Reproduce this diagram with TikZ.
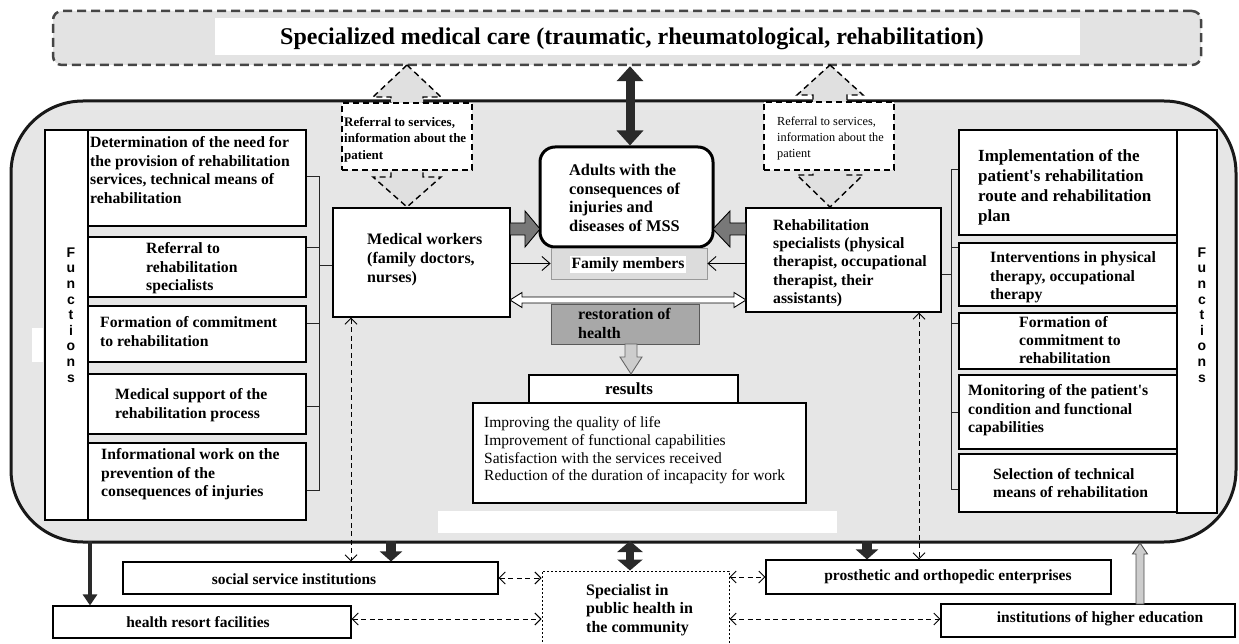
\documentclass[tikz,border=0pt]{standalone}
\usepackage{fontspec}
\setmainfont{Liberation Serif}
\newfontfamily\sansfont{Liberation Sans}
\usetikzlibrary{arrows.meta,calc,fit}
\definecolor{bgmain}{HTML}{E6E6E6}
\definecolor{bgtitle}{HTML}{E3E3E3}
\definecolor{refgrey}{HTML}{E0E0E0}
\definecolor{dashgrey}{HTML}{454545}
\definecolor{blockgrey}{HTML}{787878}
\definecolor{famgrey}{HTML}{DCDCDC}
\definecolor{restgrey}{HTML}{A8A8A8}
\definecolor{lightarrow}{HTML}{CDCDCD}
\definecolor{darkarrow}{HTML}{2A2A2A}
\newcommand{\fsz}[2]{\fontsize{#1}{#2}\selectfont}
\newcommand{\apos}{\XeTeXglyph\XeTeXcharglyph"27\relax}
\begin{document}
\begin{tikzpicture}[x=1pt,y=-1pt,
  box/.style={draw=black, line width=1.1pt, fill=white, rectangle, inner sep=0pt},
  btxt/.style={inner sep=0pt, anchor=north west, align=left, font=\bfseries\fsz{15.7}{18.6}},
  rtxt/.style={inner sep=0pt, anchor=north west, align=left, font=\fsz{15.5}{17.7}},
  reftxtb/.style={inner sep=0pt, anchor=north west, align=left, font=\bfseries\fsz{13}{16.5}},
  reftxtr/.style={inner sep=0pt, anchor=north west, align=left, font=\fsz{12.3}{15.6}},
  refbox/.style={draw=black, line width=1.4pt, dash pattern=on 6pt off 4pt, fill=white, inner sep=0pt},
  refarrow/.style={draw=black, line width=1.4pt, dash pattern=on 6pt off 4pt, fill=refgrey},
  bottxt/.style={inner sep=0pt, font=\bfseries\fsz{15.5}{18}},
  funcs/.style={align=center, inner sep=0pt, font=\sansfont\bfseries\fsz{14}{15.6}},
  brk/.style={draw=black!85, line width=0.9pt},
  garrow/.style={draw=black, line width=0.9pt, fill=blockgrey},
  lgarrow/.style={draw=black!60, line width=0.9pt, fill=lightarrow},
  hollow/.style={draw=black, line width=0.9pt, fill=white},
  thinarrow/.style={draw=black, line width=0.9pt, -{Straight Barb[length=8pt,width=14pt]}},
  dcon/.style={draw=black, line width=1pt, dash pattern=on 5pt off 3.5pt,
    {Straight Barb[length=6pt,width=12pt]}-{Straight Barb[length=6pt,width=12pt]}},
  blkdouble/.style={draw=darkarrow, line width=9pt,
    {Triangle[length=15pt,width=26pt]}-{Triangle[length=15pt,width=26pt]}},
  blkdoubleb/.style={draw=darkarrow, line width=8pt,
    {Triangle[length=11pt,width=25pt]}-{Triangle[length=11pt,width=25pt]}},
  blkshort/.style={draw=darkarrow, line width=10pt, -{Triangle[length=10pt,width=22pt]}},
  blkthin/.style={draw=darkarrow, line width=4pt, -{Triangle[length=11pt,width=14pt]}}
]
\useasboundingbox (0,0) rectangle (1239,644);

% main rounded frame
\node[draw=black!90, line width=3pt, fill=bgmain, rounded corners=72pt, inner sep=0pt,
      fit={(11,101)(1236,542)}] (main) {};

% title
\node[draw=dashgrey, line width=2.5pt, dash pattern=on 9pt off 5pt, rounded corners=9pt,
      fill=bgtitle, inner sep=0pt, fit={(53,11)(1201,65)}] (title) {};
\fill[white] (215,18) rectangle (1080,55);
\node[font=\bfseries\fsz{24}{28}, inner sep=0pt] (titlet) at (632,39)
  {Specialized medical care (traumatic, rheumatological, rehabilitation)};

% white patch on the left
\fill[white] (32,328) rectangle (43,362);

% referral arrows (dashed block double arrows)
\draw[refarrow] (407,65) -- (441,97) -- (423,97) -- (423,177) -- (441,177) -- (407,207)
  -- (373,177) -- (391,177) -- (391,97) -- (373,97) -- cycle;
\node[refbox, fit={(342,103)(472,170)}] (ref1) {};
\node[reftxtb] (ref1t) at (344,117) {Referral to services,\\information about the\\patient};

\draw[refarrow] (830,65) -- (863,95) -- (847,95) -- (847,175) -- (863,175) -- (830,207)
  -- (797,175) -- (813,175) -- (813,95) -- (797,95) -- cycle;
\node[refbox, fit={(764,102)(894,170)}] (ref2) {};
\node[reftxtr] (ref2t) at (777,117) {Referral to services,\\information about the\\patient};

% left functions column
\node[box, fit={(45,130)(88,520)}] (lcol) {};
\node[funcs] (lfun) at (71,315) {F\\u\\n\\c\\t\\i\\o\\n\\s};
\node[box, fit={(88,130)(306,226)}] (L1) {};
\node[btxt] (L1t) at (90,136.5) {Determination of the need for\\the provision of rehabilitation\\services, technical means of\\rehabilitation};
\node[box, fit={(88,237)(306,297)}] (L2) {};
\node[btxt] (L2t) at (146,242.5) {Referral to\\rehabilitation\\specialists};
\node[box, fit={(88,306)(306,362)}] (L3) {};
\node[btxt] (L3t) at (100,316.5) {Formation of commitment\\to rehabilitation};
\node[box, fit={(88,374)(306,434)}] (L4) {};
\node[btxt] (L4t) at (115,388.5) {Medical support of the\\rehabilitation process};
\node[box, fit={(88,443)(306,520)}] (L5) {};
\node[btxt] (L5t) at (101,448.5) {Informational work on the\\prevention of the\\consequences of injuries};

% right functions column
\node[box, fit={(1177,130)(1217,513)}] (rcol) {};
\node[funcs] (rfun) at (1202,315) {F\\u\\n\\c\\t\\i\\o\\n\\s};
\node[box, fit={(959,130)(1177,235)}] (R1) {};
\node[btxt, font=\bfseries\fsz{17}{20}] (R1t) at (978,149) {Implementation of the\\patient\apos s rehabilitation\\route and rehabilitation\\plan};
\node[box, fit={(959,243)(1177,306)}] (R2) {};
\node[btxt] (R2t) at (990,251.5) {Interventions in physical\\therapy, occupational\\therapy};
\node[box, fit={(959,313)(1177,369)}] (R3) {};
\node[btxt, font=\bfseries\fsz{15.7}{18}] (R3t) at (1019,316.5) {Formation of\\commitment to\\rehabilitation};
\node[box, fit={(959,375)(1177,449)}] (R4) {};
\node[btxt] (R4t) at (968,384.5) {Monitoring of the patient\apos s\\condition and functional\\capabilities};
\node[box, fit={(959,454)(1177,512)}] (R5) {};
\node[btxt, font=\bfseries\fsz{15.7}{18}] (R5t) at (993,468.5) {Selection of technical\\means of rehabilitation};

% central nodes
\node[box, fit={(333,208)(510,317)}] (med) {};
\node[btxt, font=\bfseries\fsz{16}{19}] (medt) at (367,233) {Medical workers\\(family doctors,\\nurses)};
\node[box, fit={(746,208)(941,312)}] (rehab) {};
\node[btxt, font=\bfseries\fsz{15.7}{18.3}] (rehabt) at (773,219.3) {Rehabilitation\\specialists (physical\\therapist, occupational\\therapist, their\\assistants)};
\node[draw=black, line width=3pt, rounded corners=15pt, fill=white, inner sep=0pt,
      fit={(540,147)(713,247)}] (adult) {};
\node[btxt, font=\bfseries\fsz{16.3}{18.7}] (adultt) at (569,164) {Adults with the\\consequences of\\injuries and\\diseases of MSS};

\node[draw=black!40, line width=0.8pt, fill=famgrey, inner sep=0pt, fit={(551,248)(707,279)}] (fam) {};
\node[fill=white, inner sep=1.5pt, font=\bfseries\fsz{15.7}{18}] (famt) at (628,264.5) {Family members};

\node[draw=black!65, line width=1pt, fill=restgrey, inner sep=0pt, fit={(551,304)(699,344)}] (rest) {};
\node[btxt, font=\bfseries\fsz{16}{19}] (restt) at (578,308.5) {restoration of\\health};

\node[box, fit={(529,375)(738,403)}] (reshead) {};
\node[inner sep=0pt, font=\bfseries\fsz{17}{20}] (resheadt) at (629,389) {results};
\node[box, fit={(473,403)(806,503)}] (reslist) {};
\node[rtxt] (reslistt) at (484,416.5) {Improving the quality of life\\Improvement of functional capabilities\\Satisfaction with the services received\\Reduction of the duration of incapacity for work};
\fill[white] (438,511) rectangle (837,533);

% connectors in the centre
\draw[blkdouble] (title.south -| 630,0) -- (adult.north -| 630,0);
\draw[garrow] (510,223) -- (525,223) -- (525,211) -- (540,229) -- (525,247) -- (525,235) -- (510,235) -- cycle;
\draw[garrow] (746,223) -- (730,223) -- (730,211) -- (713,229) -- (730,247) -- (730,235) -- (746,235) -- cycle;
\draw[thinarrow] (med.east |- fam.west) -- (fam.west);
\draw[thinarrow] (rehab.west |- fam.east) -- (fam.east);
\draw[hollow] (510,300) -- (522,292.5) -- (522,297) -- (734,297) -- (734,292.5) -- (746,300)
  -- (734,307.5) -- (734,303) -- (522,303) -- (522,307.5) -- cycle;
\draw[lgarrow] (625,344) -- (637,344) -- (637,357) -- (642,357) -- (631,374) -- (620,357) -- (625,357) -- cycle;

% brackets
\draw[brk] (L1.east |- 0,176) -- (319,176) -- (319,490) -- (L5.east |- 0,490);
\draw[brk] (L2.east |- 0,247) -- (319,247);
\draw[brk] (L3.east |- 0,323) -- (319,323);
\draw[brk] (L4.east |- 0,406) -- (319,406);
\draw[brk] (319,265) -- (med.west |- 0,265);
\draw[brk] (R1.west |- 0,169) -- (951,169) -- (951,489) -- (R5.west |- 0,489);
\draw[brk] (R2.west |- 0,247) -- (951,247);
\draw[brk] (R3.west |- 0,323) -- (951,323);
\draw[brk] (R4.west |- 0,412) -- (951,412);
\draw[brk] (951,274) -- (rehab.east |- 0,274);

% bottom boxes
\node[box, fit={(123,562)(498,594)}] (soc) {};
\node[bottxt] (soct) at (294,579) {social service institutions};
\node[box, fit={(53,606)(351,638)}] (spa) {};
\node[bottxt] (spat) at (198,622) {health resort facilities};
\node[draw=black, line width=1pt, dash pattern=on 2pt off 2pt, fill=white, inner sep=0pt,
      fit={(542,571)(729,648)}] (spec) {};
\node[btxt, font=\bfseries\fsz{16}{18.6}] (spect) at (586,584) {Specialist in\\public health in\\the community};
\node[box, fit={(766,560)(1111,594)}] (pros) {};
\node[bottxt] (prost) at (948,577) {prosthetic and orthopedic enterprises};
\node[box, fit={(941,604)(1235,637)}] (inst) {};
\node[bottxt] (instt) at (1100,619) {institutions of higher education};

% bottom connectors
\coordinate (mb1) at (90,541);
\draw[blkthin] (mb1) -- (mb1 |- spa.north);
\coordinate (mb2) at (391,541);
\draw[blkshort] (mb2) -- (mb2 |- soc.north);
\coordinate (mb3) at (630,541);
\draw[blkdoubleb] (mb3) -- (mb3 |- spec.north);
\coordinate (mb4) at (867,541);
\draw[blkshort] (mb4) -- (mb4 |- pros.north);
\draw[lgarrow, draw=black!70] (1136,604) -- (1136,554) -- (1132.5,554) -- (1140,543) -- (1147.5,554) -- (1144,554) -- (1144,604) -- cycle;

\draw[dcon] (med.south -| 351,0) -- (soc.north -| 351,0);
\draw[dcon] (rehab.south -| 919,0) -- (pros.north -| 919,0);
\draw[dcon] (soc.east) -- (spec.west |- soc.east);
\draw[dcon] (spa.east |- 0,619) -- (spec.west |- 0,619);
\draw[dcon] (spec.east |- pros.west) -- (pros.west);
\draw[dcon] (spec.east |- 0,619) -- (inst.west |- 0,619);
\end{tikzpicture}
\end{document}
